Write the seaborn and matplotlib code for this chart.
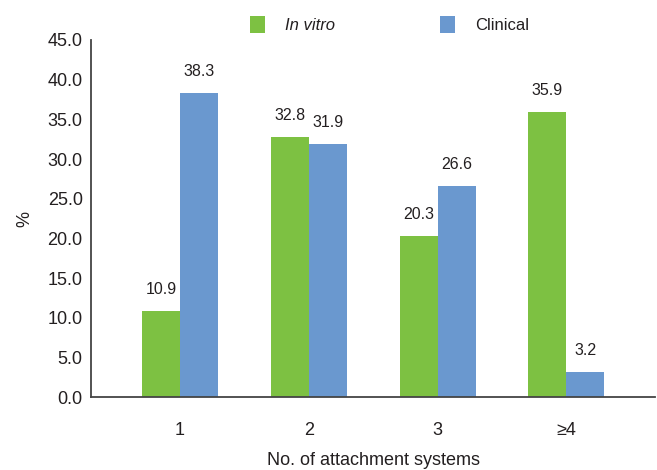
import matplotlib
matplotlib.use("Agg")
import matplotlib.pyplot as plt
import seaborn as sns
import pandas as pd
from matplotlib.patches import Patch

categories = ["1", "2", "3", "\u22654"]
in_vitro = [10.9, 32.8, 20.3, 35.9]
clinical = [38.3, 31.9, 26.6, 3.2]
series_names = ["In vitro", "Clinical"]
colors = ["#7dc142", "#6a98cf"]
yticks = [0, 5, 10, 15, 20, 25, 30, 35, 40, 45]

df = pd.DataFrame({
    "group": categories * 2,
    "series": [series_names[0]] * 4 + [series_names[1]] * 4,
    "value": in_vitro + clinical,
})

sns.set_style("white")
plt.rcParams["font.family"] = ["Liberation Sans", "DejaVu Sans"]
text_color = "#231f20"

fig = plt.figure(figsize=(6.57, 4.70), dpi=100)
ax = fig.add_axes([0.1385, 0.155, 0.859, 0.76])

sns.barplot(data=df, x="group", y="value", hue="series", palette=colors,
            width=0.59, saturation=1, ax=ax, legend=False, errorbar=None,
            linewidth=0, edgecolor="none")

for container in ax.containers:
    ax.bar_label(container, fmt="%.1f", padding=10, fontsize=11.5, color=text_color)

ax.set_ylim(0, 45)
ax.set_xlim(-0.69, 3.69)
ax.set_yticks(yticks)
ax.set_yticklabels([f"{v:.1f}" for v in yticks], fontsize=13, color=text_color)
ax.tick_params(axis="x", length=0, pad=18, labelsize=13, labelcolor=text_color)
ax.tick_params(axis="y", direction="in", length=8, width=1.2, color="#555555", pad=6)

for side in ["top", "right"]:
    ax.spines[side].set_visible(False)
for side in ["left", "bottom"]:
    ax.spines[side].set_color("#444444")
    ax.spines[side].set_linewidth(1.3)

ax.set_xlabel("No. of attachment systems", fontsize=13, color=text_color, labelpad=9)
ax.set_ylabel("%", fontsize=13, color=text_color, labelpad=10)

handles = [Patch(facecolor=c, edgecolor="none") for c in colors]
leg = fig.legend(handles, series_names, loc="upper left", bbox_to_anchor=(0.358, 0.998),
                 ncol=2, frameon=False, fontsize=12, handlelength=0.9, handleheight=1.2,
                 columnspacing=6.3, handletextpad=1.2)
for t, style in zip(leg.get_texts(), ["italic", "normal"]):
    t.set_fontstyle(style)
    t.set_color(text_color)

fig.savefig("out.png", dpi=100)
